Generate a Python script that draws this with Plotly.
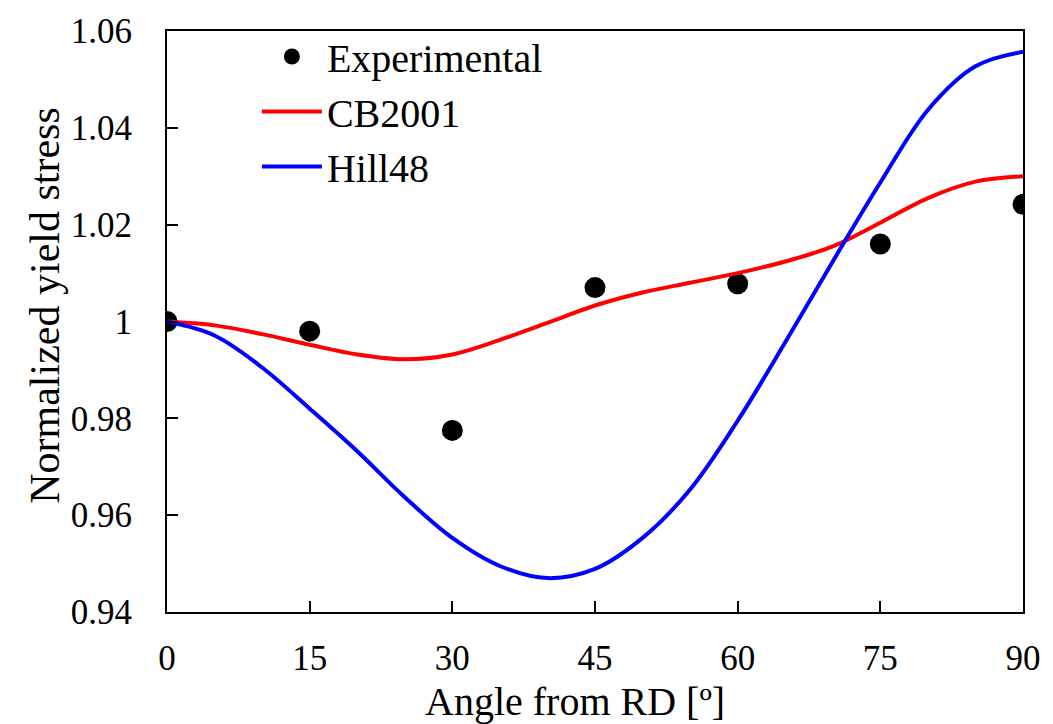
import plotly.graph_objects as go

# Experimental data
exp_angle = [0, 15, 30, 45, 60, 75, 90]
exp_value = [1.0000, 0.9980, 0.9775, 1.0070, 1.0078, 1.0160, 1.0242]

# Model curves
curve_angle = [0, 5, 10, 15, 20, 25, 30, 35, 40, 45, 50, 55, 60, 65, 70, 75, 80, 85, 90]
cb2001 = [1.0000, 0.9992, 0.9974, 0.9952, 0.9932, 0.9922, 0.9932, 0.9962, 0.9997, 1.0033,
          1.0060, 1.0080, 1.0100, 1.0124, 1.0155, 1.0204, 1.0255, 1.0289, 1.0300]
hill48 = [1.0000, 0.9971, 0.9905, 0.9820, 0.9732, 0.9637, 0.9553, 0.9495, 0.9470, 0.9489,
          0.9553, 0.9653, 0.9795, 0.9957, 1.0124, 1.0287, 1.0437, 1.0527, 1.0557]

x_ticks = [0, 15, 30, 45, 60, 75, 90]
y_ticks = [0.94, 0.96, 0.98, 1.00, 1.02, 1.04, 1.06]
y_tick_text = ["0.94", "0.96", "0.98", "1", "1.02", "1.04", "1.06"]

x_title = "Angle from RD [º]"
y_title = "Normalized yield stress"

FONT = "Liberation Serif, Times New Roman, serif"

fig = go.Figure()
fig.add_trace(go.Scatter(x=exp_angle, y=exp_value, mode="markers", name="Experimental",
                         legendgroup="a",
                         marker=dict(color="black", size=21, symbol="circle")))
fig.add_trace(go.Scatter(x=curve_angle, y=cb2001, mode="lines", name="CB2001",
                         legendgroup="b",
                         line=dict(color="#ff0000", width=4, shape="spline", smoothing=1.0)))
fig.add_trace(go.Scatter(x=curve_angle, y=hill48, mode="lines", name="Hill48",
                         legendgroup="c",
                         line=dict(color="#0000ff", width=4, shape="spline", smoothing=1.0)))

fig.update_layout(
    width=1053, height=724,
    margin=dict(l=167, r=26, t=23, b=112),
    paper_bgcolor="white", plot_bgcolor="white",
    font=dict(family=FONT, size=35, color="black"),
    showlegend=True,
    legend=dict(x=0.105, y=1.012, xanchor="left", yanchor="top",
                bgcolor="rgba(0,0,0,0)", font=dict(size=40, family=FONT),
                tracegroupgap=0, itemwidth=60),
    xaxis=dict(range=[0, 90], tickvals=x_ticks, ticks="inside", ticklen=11, tickwidth=2,
               tickcolor="black", showline=True, linecolor="black", linewidth=2,
               mirror=True, showgrid=False, zeroline=False,
               ticklabelstandoff=14,
               tickfont=dict(size=35, family=FONT)),
    yaxis=dict(range=[0.94, 1.06], tickvals=y_ticks, ticktext=y_tick_text, ticks="inside",
               ticklen=11, tickwidth=2, tickcolor="black", showline=True, linecolor="black",
               linewidth=2, mirror=True, showgrid=False, zeroline=False,
               ticklabelstandoff=26,
               tickfont=dict(size=35, family=FONT)),
    annotations=[
        dict(text=x_title, xref="paper", yref="paper", x=0.4767, y=-0.1545,
             xanchor="center", yanchor="middle", showarrow=False,
             font=dict(size=40, family=FONT, color="black")),
        dict(text=y_title, xref="paper", yref="paper", x=-0.1419, y=0.528,
             xanchor="center", yanchor="middle", showarrow=False, textangle=-90,
             font=dict(size=42, family=FONT, color="black")),
    ],
)

fig.write_html("out.html")
